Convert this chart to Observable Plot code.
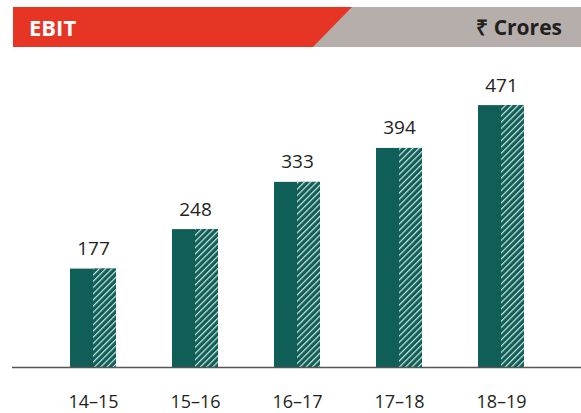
<!DOCTYPE html>
<html>
<head>
<meta charset="utf-8">
<script src="https://cdn.jsdelivr.net/npm/d3@7"></script>
<script src="https://cdn.jsdelivr.net/npm/@observablehq/plot@0.6"></script>
<style>
  html, body { margin: 0; padding: 0; background: #fff; }
  body { width: 581px; height: 413px; overflow: hidden; font-family: "Open Sans", sans-serif; }
  .header { position: relative; margin-top: 7px; height: 40px; width: 581px; }
  .header .gray { position: absolute; left: 313px; top: 0; right: 0; bottom: 0; background: #b5aeab; }
  .header .red { position: absolute; left: 13px; top: 0; width: 339px; height: 40px; background: #e73525;
    clip-path: polygon(0 0, 100% 0, 300px 100%, 0 100%); }
  .header .title { position: absolute; left: 29px; top: 0; line-height: 40px; color: #fff; font-weight: 700; font-size: 22px; }
  .header .unit { position: absolute; right: 19px; top: 0; line-height: 40px; color: #231f20; font-weight: 700; font-size: 21px; }
  #chart { margin-top: 3px; }
</style>
</head>
<body>
<div class="header">
  <div class="gray"></div>
  <div class="red"></div>
  <div class="title">EBIT</div>
  <div class="unit">₹ Crores</div>
</div>
<div id="chart"></div>
<script>
const years = ["14–15", "15–16", "16–17", "17–18", "18–19"];
const ebit = [177, 248, 333, 394, 471];

const data = years.map((y, i) => ({year: y, value: ebit[i]}));
const teal = "#0f5f58";

const plot = Plot.plot({
  width: 581,
  height: 363,
  marginLeft: 12,
  marginRight: 0,
  marginTop: 39,
  marginBottom: 46,
  style: {fontFamily: "'Open Sans', sans-serif", background: "transparent"},
  x: {domain: years, paddingInner: 0.55, paddingOuter: 0.564, label: null},
  y: {domain: [0, 500], axis: null},
  marks: [
    Plot.barY(data, {x: "year", y: "value", fill: teal}),
    Plot.barY(data, {x: "year", y: "value", fill: "url(#hatch)", insetLeft: 23}),
    Plot.ruleY([0], {stroke: "#555", strokeWidth: 1.5}),
    Plot.text(data, {x: "year", y: "value", text: d => String(d.value), lineAnchor: "bottom", dy: -14, fontSize: 19, fill: "#231f20"}),
    Plot.axisX({tickSize: 0, tickPadding: 28, fontSize: 18, color: "#231f20"})
  ]
});

const defs = d3.create("svg:defs");
const pat = defs.append("pattern")
  .attr("id", "hatch")
  .attr("patternUnits", "userSpaceOnUse")
  .attr("width", 4.4).attr("height", 4.4)
  .attr("patternTransform", "rotate(45)");
pat.append("rect").attr("width", 4.4).attr("height", 4.4).attr("fill", teal);
pat.append("line").attr("x1", 0.6).attr("y1", 0).attr("x2", 0.6).attr("y2", 4.4)
  .attr("stroke", "#dfeeea").attr("stroke-width", 1.1);
plot.insertBefore(defs.node(), plot.firstChild);

document.getElementById("chart").appendChild(plot);
</script>
</body>
</html>
